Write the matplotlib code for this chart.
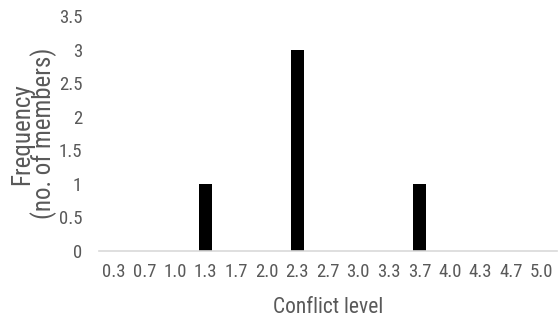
import matplotlib.pyplot as plt
from matplotlib import font_manager

# conflict level categories and frequency of members
levels = ['0.3', '0.7', '1.0', '1.3', '1.7', '2.0', '2.3', '2.7', '3.0', '3.3', '3.7', '4.0', '4.3', '4.7', '5.0']
counts = [0, 0, 0, 1, 0, 0, 3, 0, 0, 0, 1, 0, 0, 0, 0]
y_ticks = [0, 0.5, 1, 1.5, 2, 2.5, 3, 3.5]
y_tick_labels = ['0', '0.5', '1', '1.5', '2', '2.5', '3', '3.5']

names = {f.name for f in font_manager.fontManager.ttflist}
family = 'Roboto Condensed' if 'Roboto Condensed' in names else 'DejaVu Sans'
plt.rcParams['font.family'] = [family, 'DejaVu Sans']

grey = '#595959'

fig = plt.figure(figsize=(5.59, 3.23), dpi=100)
ax = fig.add_axes([0.177, 0.223, 0.819, 0.726])

ax.bar(range(len(levels)), counts, width=0.43, color='black')

ax.set_xlim(-0.5, len(levels) - 0.5)
ax.set_ylim(0, 3.5)
ax.set_xticks(range(len(levels)))
ax.set_xticklabels(levels)
ax.set_yticks(y_ticks)
ax.set_yticklabels(y_tick_labels)
ax.tick_params(axis='both', length=0, labelsize=13.5, colors=grey)
ax.tick_params(axis='x', pad=9)
ax.tick_params(axis='y', pad=12)

for side in ['top', 'right', 'left']:
    ax.spines[side].set_visible(False)
ax.spines['bottom'].set_color('#d9d9d9')
ax.spines['bottom'].set_linewidth(1.2)

ax.set_xlabel('Conflict level', fontsize=15.5, color=grey, labelpad=11)
ax.set_ylabel('Frequency\n(no. of members)', fontsize=18, color=grey, labelpad=1, linespacing=0.85)

plt.savefig('out.png')
plt.close()
